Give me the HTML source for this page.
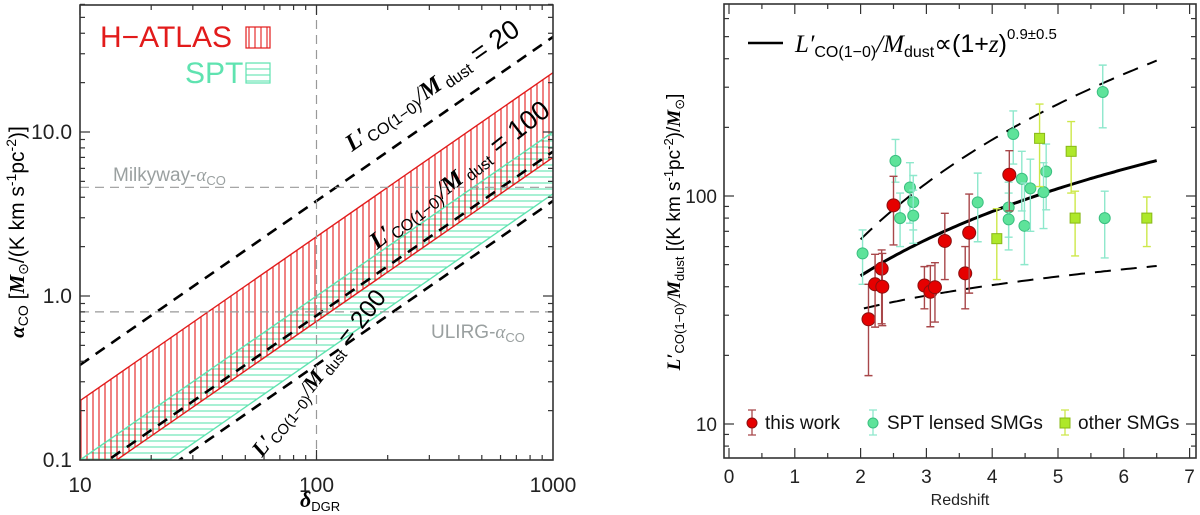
<!DOCTYPE html>
<html><head><meta charset="utf-8">
<style>
body{margin:0;background:#fff;}
svg{display:block;font-family:"Liberation Sans",sans-serif;}
.ser{font-family:"Liberation Serif",serif;font-style:italic;}
</style></head><body>
<svg id="fig" width="1200" height="515" viewBox="0 0 1200 515" xmlns="http://www.w3.org/2000/svg">
<defs>
<pattern id="vhatch" width="6" height="10" patternUnits="userSpaceOnUse"><line x1="3" y1="0" x2="3" y2="10" stroke="#e21b1b" stroke-width="1.1"/></pattern>
<pattern id="hhatch" width="10" height="6" patternUnits="userSpaceOnUse"><line x1="0" y1="3" x2="10" y2="3" stroke="#5fe3b0" stroke-width="1.1"/></pattern>
<clipPath id="clipL"><rect x="80" y="5" width="473" height="455"/></clipPath>
<clipPath id="clipR"><rect x="724" y="4" width="472" height="454"/></clipPath>
</defs>
<g id="left"></g>
<g id="right"></g>
</svg>
<script>
// ---- Left panel data ----
const ratioValues=[20,100,200];
const ratioCoeff=[0.38,0.076,0.038];        // alpha_CO at delta=10
const hatlasBand=[0.23,0.07];               // upper, lower alpha at delta=10
const sptBand=[0.1,0.042];
const refAlpha=[4.6,0.8];
const xTicksL=[10,100,1000];
const yTicksL=[0.1,1.0,10.0];
const yTickLabelsL=["0.1","1.0","10.0"];
// ---- Right panel data ----
const thisZ=[2.12,2.22,2.32,2.33,2.50,2.97,3.06,3.13,3.28,3.59,3.65,4.26];
const thisV=[28.8,41,48,40,91,40.5,38,39.8,63.5,45.8,69,124];
const thisHi=[41,55.5,58,56,122,49,49.5,51,84,60,102,158];
const thisLo=[16.3,26.6,27.5,27,61,32,26.7,28,43,32,37.5,86];
const sptZ=[2.03,2.53,2.75,2.60,2.80,2.80,3.78,4.32,4.25,4.25,4.45,4.49,4.58,4.82,4.78,5.71,5.68];
const sptV=[56,142.6,109,80,94,82,93.8,187,89,79,119,74,108,128,104,80,286];
const sptHi=[71,177,140,103,123,106,126,236,115,103,157,114,145,169,140,105,375];
const sptLo=[41,115,76,60,71,62,63,138,66,58,86,50,70,87,72,53.5,199];
const othZ=[4.07,4.72,5.20,5.26,6.35];
const othV=[65,179,157,80,80];
const othHi=[88,253,212,105,99];
const othLo=[43,110,103,54.6,60];
const curveA=[11.07,7.41,18.9];
const curveK=[1.27,1.97,0.476];
const curveZ0=[2.0,2.0,2.05];
const xTicksR=[0,1,2,3,4,5,6,7];
const yTicksR=[10,100];

const NS="http://www.w3.org/2000/svg";
function mk(parent,tag,attrs){const e=document.createElementNS(NS,tag);for(const k in attrs)e.setAttribute(k,attrs[k]);parent.appendChild(e);return e;}

const lx=d=>80+236.5*(Math.log10(d)-1);
const ly=a=>460-164*(Math.log10(a)+1);
const gL=document.getElementById('left');

function bandPoly(up,lo){return `${lx(10)},${ly(up)} ${lx(1000)},${ly(up*100)} ${lx(1000)},${ly(lo*100)} ${lx(10)},${ly(lo)}`;}
let e;
e=mk(gL,'polygon',{points:bandPoly(sptBand[0],sptBand[1]),fill:'url(#hhatch)','clip-path':'url(#clipL)'});


e=mk(gL,'polygon',{points:bandPoly(hatlasBand[0],hatlasBand[1]),fill:'url(#vhatch)','clip-path':'url(#clipL)'});


[[sptBand[0],'#5fe3b0'],[sptBand[1],'#5fe3b0'],[hatlasBand[0],'#e21b1b'],[hatlasBand[1],'#e21b1b']].forEach(([v,c])=>{
 e=mk(gL,'line',{x1:lx(10),y1:ly(v),x2:lx(1000),y2:ly(v*100),stroke:c,'stroke-width':1.4,'clip-path':'url(#clipL)'});
 
 
});
ratioCoeff.forEach((c,i)=>{
 e=mk(gL,'line',{x1:lx(10),y1:ly(c),x2:lx(1000),y2:ly(c*100),stroke:'#000','stroke-width':2.6,'stroke-dasharray':'11 8','clip-path':'url(#clipL)'});
 
 
});
refAlpha.forEach((a)=>{
 e=mk(gL,'line',{x1:80,y1:ly(a),x2:553,y2:ly(a),stroke:'#999','stroke-width':1.2,'stroke-dasharray':'9 6'});
 
 
});
e=mk(gL,'line',{x1:lx(100),y1:5,x2:lx(100),y2:460,stroke:'#999','stroke-width':1.2,'stroke-dasharray':'9 6'});


e=mk(gL,'text',{x:113,y:181,'font-size':19,fill:'#9aa0a0'});e.innerHTML='Milkyway-<tspan class="ser">α</tspan><tspan font-size="13" dy="4">CO</tspan>';


e=mk(gL,'text',{x:431,y:338,'font-size':19,fill:'#9aa0a0'});e.innerHTML='ULIRG-<tspan class="ser">α</tspan><tspan font-size="13" dy="4">CO</tspan>';


const labPos=[[352,152,-35,24],[377,250,-38,24],[262,458,-52,22]];
labPos.forEach((p,i)=>{
 const fs=p[3];
 e=mk(gL,'text',{x:p[0],y:p[1],'font-size':fs,transform:`rotate(${p[2]} ${p[0]} ${p[1]})`});
 e.innerHTML=`<tspan class="ser" font-weight="bold">L′</tspan><tspan font-size="${fs*0.67}" dy="4">CO(1−0)</tspan><tspan dy="-4" class="ser">/</tspan><tspan class="ser" font-weight="bold">M</tspan><tspan font-size="${fs*0.67}" dy="4"> dust</tspan><tspan dy="-4" font-size="${fs*1.12}"> = ${ratioValues[i]}</tspan>`;
 
 
});
e=mk(gL,'text',{x:100,y:47,'font-size':30,fill:'#e21b1b'});e.textContent='H−ATLAS';


e=mk(gL,'rect',{x:246,y:27,width:24,height:21,fill:'url(#vhatch)',stroke:'#e21b1b','stroke-width':1.2});


e=mk(gL,'text',{x:185,y:83,'font-size':30,fill:'#5fe3b0'});e.textContent='SPT';


e=mk(gL,'rect',{x:246,y:63,width:24,height:20,fill:'url(#hhatch)',stroke:'#5fe3b0','stroke-width':1.2});


e=mk(gL,'rect',{x:80,y:5,width:473,height:455,fill:'none',stroke:'#333','stroke-width':1.6});


function tk(g,x1,y1,x2,y2){mk(g,'line',{x1,y1,x2,y2,stroke:'#333','stroke-width':1.2});}
for(let dec=10;dec<1000;dec*=10)for(let m=1;m<10;m++){const x=lx(dec*m);const len=m==1?10:5;tk(gL,x,460,x,460-len);tk(gL,x,5,x,5+len);}
for(let dec=0.1;dec<60;dec*=10)for(let m=1;m<10;m++){const v=dec*m;if(v>60)break;const y=ly(v);const len=m==1?10:5;tk(gL,80,y,80+len,y);tk(gL,553,y,553-len,y);}
xTicksL.forEach(v=>{e=mk(gL,'text',{x:lx(v),y:492,'font-size':21,'text-anchor':'middle',fill:'#222'});e.textContent=String(v);
 
 });
yTicksL.forEach((v,i)=>{e=mk(gL,'text',{x:72,y:ly(v)+7,'font-size':21,'text-anchor':'end',fill:'#222'});e.textContent=yTickLabelsL[i];
 
 });
e=mk(gL,'text',{x:300,y:507,'font-size':22});e.innerHTML='<tspan class="ser" font-weight="bold">δ</tspan><tspan font-size="13" dy="4">DGR</tspan>';


e=mk(gL,'text',{x:24,y:232,'font-size':21,'text-anchor':'middle',transform:'rotate(-90 24 232)'});
e.innerHTML='<tspan class="ser" font-weight="bold">α</tspan><tspan font-size="14" dy="4">CO</tspan><tspan dy="-4"> [</tspan><tspan class="ser" font-weight="bold">M</tspan><tspan font-size="14" dy="4">⊙</tspan><tspan dy="-4">/(K km s</tspan><tspan font-size="14" dy="-8">-1</tspan><tspan dy="8">pc</tspan><tspan font-size="14" dy="-8">-2</tspan><tspan dy="8">)]</tspan>';



// ---- Right panel ----
const gR=document.getElementById('right');
const rx=z=>729+65.8*z;
const ry=v=>196-228*(Math.log10(v)-2);
const curveNames=['fit-curve','upper-bound-curve','lower-bound-curve'];
curveA.forEach((A,i)=>{
 let pts=[];for(let z=curveZ0[i];z<=6.501;z+=0.05)pts.push(rx(z).toFixed(1)+','+ry(A*Math.pow(1+z,curveK[i])).toFixed(1));
 e=mk(gR,'polyline',{points:pts.join(' '),fill:'none',stroke:'#000','stroke-width':i==0?3:2,'stroke-dasharray':i==0?'none':'16 10','clip-path':'url(#clipR)'});
 
 
});
function series(Z,V,Hi,Lo,ecol,fcol,scol,shape,name){
 Z.forEach((z,i)=>{
  const x=rx(z);
  e=mk(gR,'path',{d:`M${x},${ry(Hi[i])}V${ry(Lo[i])}M${x-4},${ry(Hi[i])}h8M${x-4},${ry(Lo[i])}h8`,stroke:ecol,'stroke-width':1.4,fill:'none'});
  
  
  if(shape=='sq') e=mk(gR,'rect',{x:x-5,y:ry(V[i])-5,width:10,height:10,fill:fcol,stroke:scol,'stroke-width':1});
  else e=mk(gR,'circle',{cx:x,cy:ry(V[i]),r:shape=='big'?6.5:5.5,fill:fcol,stroke:scol,'stroke-width':1});
  
  
 });
}
series(sptZ,sptV,sptHi,sptLo,'#8ee8cc','#5ee39a','#3bbf80','c','spt');
series(othZ,othV,othHi,othLo,'#cde84a','#aee82a','#88b818','sq','other-smg');
series(thisZ,thisV,thisHi,thisLo,'#a8474a','#e60000','#8a1010','big','this-work');
e=mk(gR,'rect',{x:724,y:4,width:472,height:454,fill:'none',stroke:'#333','stroke-width':1.6});


for(let z=0;z<=7;z+=0.5){const x=rx(z);const len=(z%1==0)?10:5;tk(gR,x,458,x,458-len);tk(gR,x,4,x,4+len);}
for(let dec=1;dec<1000;dec*=10)for(let m=1;m<10;m++){const vv=dec*m;if(vv<7.1||vv>680)continue;const y=ry(vv);const len=(m==1)?10:5;tk(gR,724,y,724+len,y);tk(gR,1196,y,1196-len,y);}
xTicksR.forEach(v=>{e=mk(gR,'text',{x:rx(v),y:483,'font-size':19,'text-anchor':'middle',fill:'#222'});e.textContent=String(v);
 
 });
yTicksR.forEach(v=>{e=mk(gR,'text',{x:717,y:ry(v)+7,'font-size':19,'text-anchor':'end',fill:'#222'});e.textContent=String(v);
 
 });
e=mk(gR,'text',{x:960,y:505,'font-size':16,'text-anchor':'middle',fill:'#222'});e.textContent='Redshift';


e=mk(gR,'text',{x:680,y:232,'font-size':19,'text-anchor':'middle',transform:'rotate(-90 680 232)'});
e.innerHTML='<tspan class="ser" font-weight="bold">L′</tspan><tspan font-size="13" dy="4">CO(1−0)</tspan><tspan dy="-4" class="ser">/</tspan><tspan class="ser" font-weight="bold">M</tspan><tspan font-size="13" dy="4">dust</tspan><tspan dy="-4"> [(K km s</tspan><tspan font-size="13" dy="-7">-1</tspan><tspan dy="7">pc</tspan><tspan font-size="13" dy="-7">-2</tspan><tspan dy="7">)/</tspan><tspan class="ser" font-weight="bold">M</tspan><tspan font-size="13" dy="4">⊙</tspan><tspan dy="-4">]</tspan>';


e=mk(gR,'line',{x1:748,y1:43,x2:783,y2:43,stroke:'#000','stroke-width':2.5});


e=mk(gR,'text',{x:795,y:52,'font-size':25});
e.innerHTML='<tspan class="ser">L′</tspan><tspan font-size="16" dy="5">CO(1−0)</tspan><tspan dy="-5" class="ser">/</tspan><tspan class="ser">M</tspan><tspan font-size="16" dy="5">dust</tspan><tspan dy="-5">∝(1+</tspan><tspan class="ser">z</tspan><tspan>)</tspan><tspan font-size="15" dy="-13">0.9±0.5</tspan>';


function legItem(x,col,ecol,scol,shape,label,tx,name){
 e=mk(gR,'path',{d:`M${x},410V435M${x-4},410h8M${x-4},435h8`,stroke:ecol,'stroke-width':1.3,fill:'none'});
 
 
 if(shape=='sq')e=mk(gR,'rect',{x:x-5,y:418,width:10,height:10,fill:col,stroke:scol});
 else e=mk(gR,'circle',{cx:x,cy:423,r:5,fill:col,stroke:scol});
 
 
 e=mk(gR,'text',{x:tx,y:429,'font-size':19,fill:'#111'});e.textContent=label;
 
 
}
legItem(752,'#e60000','#a8474a','#8a1010','c','this work',765,'this-work');
legItem(873,'#5ee39a','#8ee8cc','#3bbf80','c','SPT lensed SMGs',887,'spt');
legItem(1065,'#aee82a','#cde84a','#88b818','sq','other SMGs',1078,'other-smg');
</script>
</body></html>
